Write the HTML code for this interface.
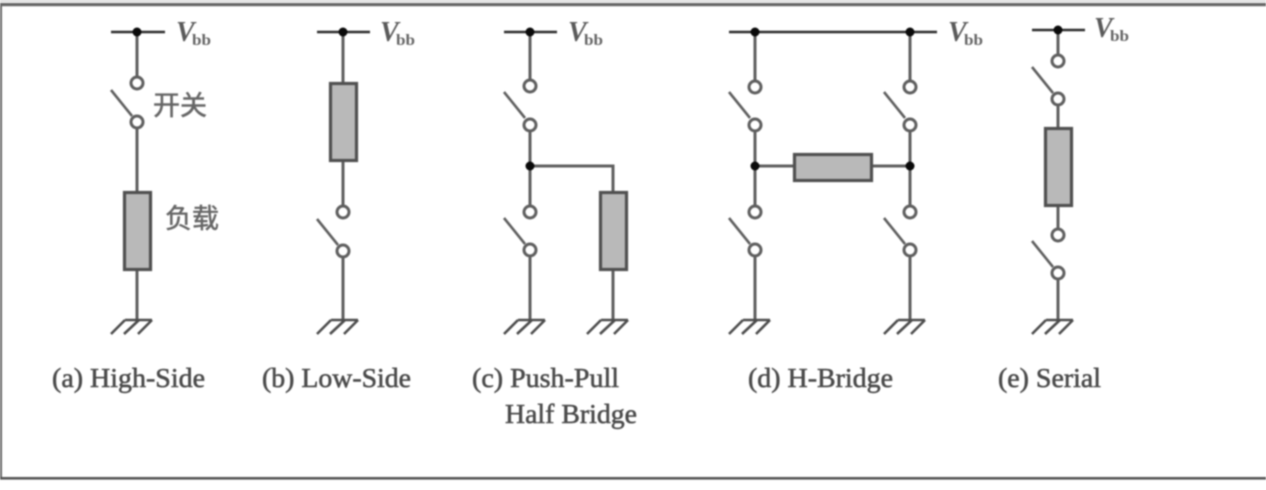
<!DOCTYPE html>
<html><head><meta charset="utf-8">
<style>
html,body{margin:0;padding:0;background:#fff}
svg{display:block;filter:blur(.7px)}
.w{stroke:#5f5f5f;stroke-width:3;fill:none}
.t{stroke:#2c2c2c;stroke-width:2.6;fill:none}
.c{stroke:#5f5f5f;stroke-width:3;fill:#fff}
.r{stroke:#505050;stroke-width:3.2;fill:#b9b9b9}
.d{fill:#0a0a0a}
.g{stroke:#4c4c4c;stroke-width:2.6;fill:none}
.s{stroke:#5f5f5f;stroke-width:2.6;fill:none}
text{font-family:"Liberation Serif","Noto Serif CJK SC",serif}
.l{font-size:27px;fill:#4a4a4a;stroke:#4a4a4a;stroke-width:.55}
.v{font-size:28px;font-style:italic;font-weight:bold;fill:#5a5a5a}
.b{font-size:16px;font-weight:bold;fill:#666}
.z{font-family:"Noto Sans CJK SC",sans-serif;font-size:27px;fill:#666;stroke:#666;stroke-width:.5}
</style></head><body>
<svg width="1266" height="490" viewBox="0 0 1266 490" xmlns="http://www.w3.org/2000/svg">
<defs>
<g id="gnd"><path class="g" d="M-12 0H15M-12 0L-26 14M2 0L-13 14M15 0L1 14"/></g>
<g id="sw"><path class="s" d="M0 0L21 26"/></g>
</defs>
<rect width="1266" height="490" fill="#fff"/>
<rect x="0" y="0" width="1266" height="2" fill="#ddd"/>
<rect x="0" y="3" width="1266" height="3.200" fill="#666"/>
<rect x="0" y="3" width="2" height="476" fill="#666"/>
<rect x="0" y="477" width="1266" height="2.600" fill="#555"/>

<!-- a -->
<path class="w" d="M137 32V77M137 128V192M137 270V320"/>
<path class="t" d="M111 32H165"/><circle class="d" cx="137" cy="32" r="4.500"/>
<circle class="c" cx="137" cy="83" r="6"/><circle class="c" cx="137" cy="122" r="6"/>
<use href="#sw" x="111" y="90"/>
<rect class="r" x="124.500" y="192.500" width="26" height="77"/>
<use href="#gnd" x="137" y="320"/>
<text class="v" x="176" y="41">V</text><text class="b" x="192" y="45" textLength="19" lengthAdjust="spacingAndGlyphs">bb</text>
<text class="z" x="153" y="115">开关</text><text class="z" x="165" y="228">负载</text>
<text class="l" x="52" y="387" textLength="153" lengthAdjust="spacingAndGlyphs">(a) High-Side</text>

<!-- b -->
<path class="w" d="M343 32V83M343 160V206M343 257V320"/>
<path class="t" d="M317 32H370"/><circle class="d" cx="343" cy="32" r="4.500"/>
<rect class="r" x="330.500" y="83.500" width="26" height="77"/>
<circle class="c" cx="343" cy="212" r="6"/><circle class="c" cx="343" cy="251" r="6"/>
<use href="#sw" x="317" y="219"/>
<use href="#gnd" x="343" y="320"/>
<text class="v" x="380" y="41">V</text><text class="b" x="396" y="45" textLength="19" lengthAdjust="spacingAndGlyphs">bb</text>
<text class="l" x="262" y="387" textLength="149" lengthAdjust="spacingAndGlyphs">(b) Low-Side</text>

<!-- c -->
<path class="w" d="M530 32V80M530 130V206M530 256V320M530 166H613V192M613 270V320"/>
<path class="t" d="M504 32H557"/><circle class="d" cx="530" cy="32" r="4.500"/>
<circle class="d" cx="530" cy="166" r="4.500"/>
<circle class="c" cx="530" cy="86" r="6"/><circle class="c" cx="530" cy="125" r="6"/>
<circle class="c" cx="530" cy="212" r="6"/><circle class="c" cx="530" cy="250" r="6"/>
<use href="#sw" x="504" y="92"/><use href="#sw" x="504" y="218"/>
<rect class="r" x="600.500" y="192.500" width="26" height="77"/>
<use href="#gnd" x="530" y="320"/><use href="#gnd" x="613" y="320"/>
<text class="v" x="568" y="41">V</text><text class="b" x="584" y="45" textLength="19" lengthAdjust="spacingAndGlyphs">bb</text>
<text class="l" x="472" y="387" textLength="147" lengthAdjust="spacingAndGlyphs">(c) Push-Pull</text>
<text class="l" x="505" y="423" textLength="132" lengthAdjust="spacingAndGlyphs">Half Bridge</text>

<!-- d -->
<path class="w" d="M755 32V81M755 131V206M755 256V320M910 32V81M910 131V206M910 256V320M755 166H794M872 166H910"/>
<path class="t" d="M729 32H937"/>
<circle class="d" cx="755" cy="32" r="4.500"/><circle class="d" cx="910" cy="32" r="4.500"/>
<circle class="d" cx="755" cy="166" r="4.500"/><circle class="d" cx="910" cy="166" r="4.500"/>
<circle class="c" cx="755" cy="87" r="6"/><circle class="c" cx="755" cy="125" r="6"/>
<circle class="c" cx="755" cy="212" r="6"/><circle class="c" cx="755" cy="250" r="6"/>
<circle class="c" cx="910" cy="87" r="6"/><circle class="c" cx="910" cy="125" r="6"/>
<circle class="c" cx="910" cy="212" r="6"/><circle class="c" cx="910" cy="250" r="6"/>
<use href="#sw" x="729" y="92"/><use href="#sw" x="729" y="218"/>
<use href="#sw" x="884" y="92"/><use href="#sw" x="884" y="218"/>
<rect class="r" x="794.500" y="154.500" width="77" height="26"/>
<use href="#gnd" x="755" y="320"/><use href="#gnd" x="910" y="320"/>
<text class="v" x="948" y="41">V</text><text class="b" x="964" y="45" textLength="19" lengthAdjust="spacingAndGlyphs">bb</text>
<text class="l" x="748" y="387" textLength="145" lengthAdjust="spacingAndGlyphs">(d) H-Bridge</text>

<!-- e -->
<path class="w" d="M1058 30V55M1058 105V128M1058 206V229M1058 279V320"/>
<path class="t" d="M1032 30H1085"/><circle class="d" cx="1058" cy="30" r="4.500"/>
<circle class="c" cx="1058" cy="61" r="6"/><circle class="c" cx="1058" cy="99" r="6"/>
<rect class="r" x="1045.500" y="128.500" width="26" height="77"/>
<circle class="c" cx="1058" cy="235" r="6"/><circle class="c" cx="1058" cy="273" r="6"/>
<use href="#sw" x="1032" y="67"/><use href="#sw" x="1032" y="241"/>
<use href="#gnd" x="1058" y="320"/>
<text class="v" x="1094" y="37">V</text><text class="b" x="1110" y="41" textLength="19" lengthAdjust="spacingAndGlyphs">bb</text>
<text class="l" x="998" y="387" textLength="103" lengthAdjust="spacingAndGlyphs">(e) Serial</text>
</svg>
</body></html>
